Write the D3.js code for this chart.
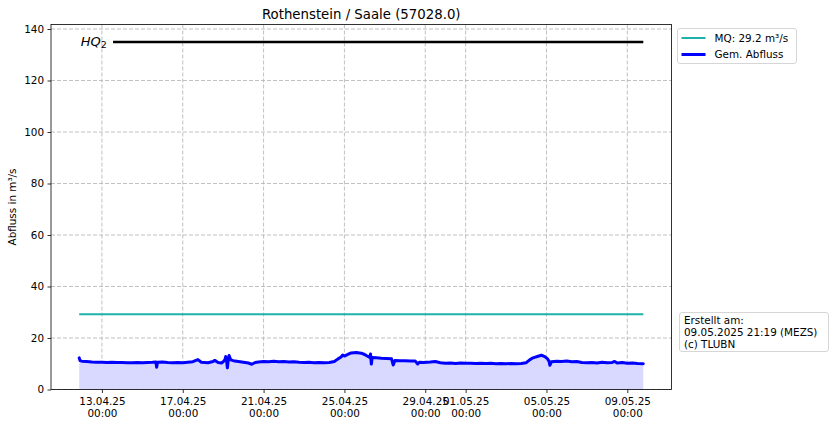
<!DOCTYPE html>
<html><head><meta charset="utf-8">
<script src="https://cdn.jsdelivr.net/npm/d3@7"></script>
<style>
html,body{margin:0;padding:0;background:#fff;}
svg{display:block;font-family:"DejaVu Sans",sans-serif;}
</style></head>
<body><svg id="c" width="834" height="426"></svg>
<script>
const title = "Rothenstein / Saale (57028.0)";
const yLabel = "Abfluss in m³/s";
const mqValue = 29.2;
const hq2Value = 135;
const legendLabels = ["MQ: 29.2 m³/s", "Gem. Abfluss"];
const noteLines = ["Erstellt am:", "09.05.2025 21:19 (MEZS)", "(c) TLUBN"];
const yTicks = [0, 20, 40, 60, 80, 100, 120, 140];
const xTicks = ["2025-04-13T00:00","2025-04-17T00:00","2025-04-21T00:00","2025-04-25T00:00","2025-04-29T00:00","2025-05-01T00:00","2025-05-05T00:00","2025-05-09T00:00"];
const xTickLabels = [["13.04.25","00:00"],["17.04.25","00:00"],["21.04.25","00:00"],["25.04.25","00:00"],["29.04.25","00:00"],["01.05.25","00:00"],["05.05.25","00:00"],["09.05.25","00:00"]];

const times = [
"2025-04-11T21:00","2025-04-11T22:00","2025-04-12T00:00","2025-04-12T06:00","2025-04-12T12:00","2025-04-12T18:00",
"2025-04-13T00:00","2025-04-13T06:00","2025-04-13T12:00","2025-04-13T18:00",
"2025-04-14T00:00","2025-04-14T06:00","2025-04-14T12:00","2025-04-14T18:00",
"2025-04-15T00:00","2025-04-15T06:00","2025-04-15T12:00","2025-04-15T16:00","2025-04-15T17:00","2025-04-15T18:00",
"2025-04-16T00:00","2025-04-16T06:00","2025-04-16T12:00","2025-04-16T18:00",
"2025-04-17T00:00","2025-04-17T06:00","2025-04-17T12:00","2025-04-17T18:00","2025-04-17T22:00",
"2025-04-18T06:00","2025-04-18T12:00","2025-04-18T14:00","2025-04-18T18:00","2025-04-18T22:00",
"2025-04-19T00:00","2025-04-19T02:00","2025-04-19T03:00","2025-04-19T04:00","2025-04-19T05:00","2025-04-19T06:00","2025-04-19T07:00","2025-04-19T09:00","2025-04-19T12:00","2025-04-19T18:00",
"2025-04-20T00:00","2025-04-20T06:00","2025-04-20T10:00","2025-04-20T14:00","2025-04-20T18:00",
"2025-04-21T00:00","2025-04-21T06:00","2025-04-21T12:00","2025-04-21T18:00",
"2025-04-22T00:00","2025-04-22T06:00","2025-04-22T12:00","2025-04-22T18:00",
"2025-04-23T00:00","2025-04-23T06:00","2025-04-23T12:00","2025-04-23T18:00",
"2025-04-24T00:00","2025-04-24T06:00","2025-04-24T12:00","2025-04-24T16:00","2025-04-24T20:00","2025-04-24T22:00",
"2025-04-25T00:00","2025-04-25T04:00","2025-04-25T08:00","2025-04-25T14:00","2025-04-25T20:00",
"2025-04-26T00:00","2025-04-26T03:00","2025-04-26T06:00","2025-04-26T07:00","2025-04-26T08:00","2025-04-26T09:00","2025-04-26T14:00","2025-04-26T20:00",
"2025-04-27T02:00","2025-04-27T08:00","2025-04-27T10:00","2025-04-27T12:00","2025-04-27T18:00",
"2025-04-28T00:00","2025-04-28T06:00","2025-04-28T12:00","2025-04-28T15:00","2025-04-28T17:00","2025-04-28T22:00",
"2025-04-29T06:00","2025-04-29T12:00","2025-04-29T18:00",
"2025-04-30T00:00","2025-04-30T06:00","2025-04-30T12:00","2025-04-30T18:00",
"2025-05-01T00:00","2025-05-01T06:00","2025-05-01T12:00","2025-05-01T18:00",
"2025-05-02T00:00","2025-05-02T06:00","2025-05-02T12:00","2025-05-02T18:00",
"2025-05-03T00:00","2025-05-03T06:00","2025-05-03T12:00","2025-05-03T18:00",
"2025-05-04T00:00","2025-05-04T04:00","2025-05-04T08:00","2025-05-04T14:00","2025-05-04T18:00","2025-05-04T22:00",
"2025-05-05T01:00","2025-05-05T03:00","2025-05-05T04:00","2025-05-05T06:00","2025-05-05T12:00","2025-05-05T18:00",
"2025-05-06T00:00","2025-05-06T06:00","2025-05-06T12:00","2025-05-06T18:00",
"2025-05-07T00:00","2025-05-07T06:00","2025-05-07T12:00","2025-05-07T18:00",
"2025-05-08T00:00","2025-05-08T06:00","2025-05-08T09:00","2025-05-08T12:00","2025-05-08T18:00",
"2025-05-09T00:00","2025-05-09T06:00","2025-05-09T12:00","2025-05-09T19:00"
];
const flow = [
12.3,11.2,11.0,10.9,10.7,10.6,
10.6,10.5,10.6,10.5,
10.5,10.4,10.4,10.5,
10.4,10.5,10.6,10.7,8.6,10.6,
10.7,10.5,10.4,10.5,
10.4,10.6,10.8,11.6,10.6,
10.4,10.9,11.3,10.5,10.3,
10.8,11.5,12.8,11.2,8.4,11.3,13.2,11.5,11.2,10.9,
10.6,10.3,9.8,10.5,10.7,
10.9,10.8,11.0,10.8,
10.9,10.7,10.8,10.6,
10.5,10.6,10.4,10.5,
10.4,10.5,10.9,11.8,12.6,13.4,
13.0,13.6,14.2,14.4,14.1,
13.6,13.0,12.5,13.8,9.9,12.4,12.3,12.1,
12.0,11.9,9.5,11.3,11.2,
11.2,11.1,11.1,9.9,10.6,10.5,
10.7,10.9,10.4,
10.2,10.3,10.1,10.3,
10.2,10.2,10.1,10.2,
10.1,10.2,10.0,10.1,
10.0,10.1,10.0,10.1,
10.4,11.5,12.3,12.9,13.3,12.8,
12.0,11.0,9.4,10.8,11.0,10.9,
11.1,10.8,10.9,10.5,
10.4,10.5,10.3,10.6,
10.4,10.5,10.9,10.3,10.5,
10.2,10.3,10.1,10.0
];

const parse = d3.utcParse("%Y-%m-%dT%H:%M");
const data = times.map((t, i) => ({t: parse(t), v: flow[i]}));

const svg = d3.select("#c");
const L = 51, R = 671.5, T = 24.5, B = 389.5;
const fs = 10.4;

const ext = d3.extent(data, d => d.t);
const span = ext[1] - ext[0];
const x = d3.scaleUtc().domain([new Date(+ext[0] - span * 0.05), new Date(+ext[1] + span * 0.05)]).range([L, R]);
const y = d3.scaleLinear().domain([0, hq2Value * 1.05]).range([B, T]);

// grid
const g = svg.append("g");
g.selectAll(".gx").data(xTicks).join("line")
  .attr("x1", d => x(parse(d))).attr("x2", d => x(parse(d)))
  .attr("y1", T).attr("y2", B)
  .attr("stroke", "#b0b0b0").attr("stroke-width", 0.8).attr("stroke-dasharray", "4,2");
g.selectAll(".gy").data(yTicks).join("line")
  .attr("x1", L).attr("x2", R)
  .attr("y1", d => y(d)).attr("y2", d => y(d))
  .attr("stroke", "#b0b0b0").attr("stroke-width", 0.8).attr("stroke-dasharray", "4,2");

// fill area
svg.append("path").datum(data)
  .attr("d", d3.area().x(d => x(d.t)).y0(y(0)).y1(d => y(d.v)))
  .attr("fill", "#d9d9ff");

// MQ line
svg.append("line")
  .attr("x1", x(ext[0])).attr("x2", x(ext[1]))
  .attr("y1", y(mqValue)).attr("y2", y(mqValue))
  .attr("stroke", "#20b2aa").attr("stroke-width", 2);

// HQ2 line
const hqStart = new Date(+ext[0] + span * 0.06);
svg.append("line")
  .attr("x1", x(hqStart)).attr("x2", x(ext[1]))
  .attr("y1", y(hq2Value)).attr("y2", y(hq2Value))
  .attr("stroke", "#000").attr("stroke-width", 2.5);
const hqText = svg.append("text")
  .attr("x", x(ext[0]) + 1.5).attr("y", y(hq2Value) + 4.5)
  .attr("font-size", 13).attr("font-style", "italic").attr("fill", "#000");
hqText.append("tspan").text("HQ");
hqText.append("tspan").attr("font-size", 9.5).attr("font-style", "normal").attr("dy", 2).text("2");

// flow line
svg.append("path").datum(data)
  .attr("d", d3.line().x(d => x(d.t)).y(d => y(d.v)))
  .attr("fill", "none").attr("stroke", "#0000ff").attr("stroke-width", 3)
  .attr("stroke-linejoin", "round").attr("stroke-linecap", "round");

// frame
svg.append("rect").attr("x", L).attr("y", T).attr("width", R - L).attr("height", B - T)
  .attr("fill", "none").attr("stroke", "#000").attr("stroke-width", 0.8);

// axes
const yAxis = d3.axisLeft(y).tickValues(yTicks).tickSize(3.5).tickPadding(3.5).tickFormat(d3.format("d"));
const ya = svg.append("g").attr("transform", `translate(${L},0)`).call(yAxis);
ya.select(".domain").remove();
ya.selectAll("text").attr("font-size", fs).attr("font-family", "DejaVu Sans").attr("fill", "#000");
ya.selectAll("line").attr("stroke-width", 0.8);

const xAxis = d3.axisBottom(x).tickValues(xTicks.map(parse)).tickSize(3.5).tickPadding(3.5).tickFormat(() => "");
const xa = svg.append("g").attr("transform", `translate(0,${B})`).call(xAxis);
xa.select(".domain").remove();
xa.selectAll("line").attr("stroke-width", 0.8);
xa.selectAll(".tick text").each(function(d, i) {
  const t = d3.select(this).attr("font-size", fs).attr("font-family", "DejaVu Sans").attr("fill", "#000").attr("dy", null).attr("y", 0);
  t.append("tspan").attr("x", 0).attr("y", 15.5).text(xTickLabels[i][0]);
  t.append("tspan").attr("x", 0).attr("y", 27).text(xTickLabels[i][1]);
});

// title
svg.append("text").attr("x", (L + R) / 2).attr("y", 18.5).attr("text-anchor", "middle")
  .attr("font-size", 13.3).text(title);

// y label
svg.append("text").attr("transform", `translate(16,${(T + B) / 2}) rotate(-90)`)
  .attr("text-anchor", "middle").attr("font-size", fs).text(yLabel);

// legend
const lg = svg.append("g").attr("transform", "translate(677.5,28.5)");
lg.append("rect").attr("width", 119).attr("height", 35).attr("rx", 2.5)
  .attr("fill", "#fff").attr("fill-opacity", 0.8).attr("stroke", "#cccccc").attr("stroke-width", 0.8);
const legendColors = ["#20b2aa", "#0000ff"];
const legendWidths = [2, 3];
lg.selectAll(".li").data(legendLabels).join("g")
  .attr("transform", (d, i) => `translate(0,${9.5 + i * 16.5})`)
  .each(function(d, i) {
    const s = d3.select(this);
    s.append("line").attr("x1", 4).attr("x2", 28).attr("y1", 0).attr("y2", 0)
      .attr("stroke", legendColors[i]).attr("stroke-width", legendWidths[i]);
    s.append("text").attr("x", 37).attr("y", 3.8).attr("font-size", fs).text(d);
  });

// note box
const nb = svg.append("g").attr("transform", "translate(679.5,312.5)");
nb.append("rect").attr("width", 149).attr("height", 39).attr("rx", 2.5)
  .attr("fill", "#fff").attr("stroke", "#cccccc").attr("stroke-width", 0.8);
nb.selectAll("text").data(noteLines).join("text")
  .attr("x", 4.5).attr("y", (d, i) => 11.5 + i * 11.8).attr("font-size", fs).text(d => d);
</script></body></html>
